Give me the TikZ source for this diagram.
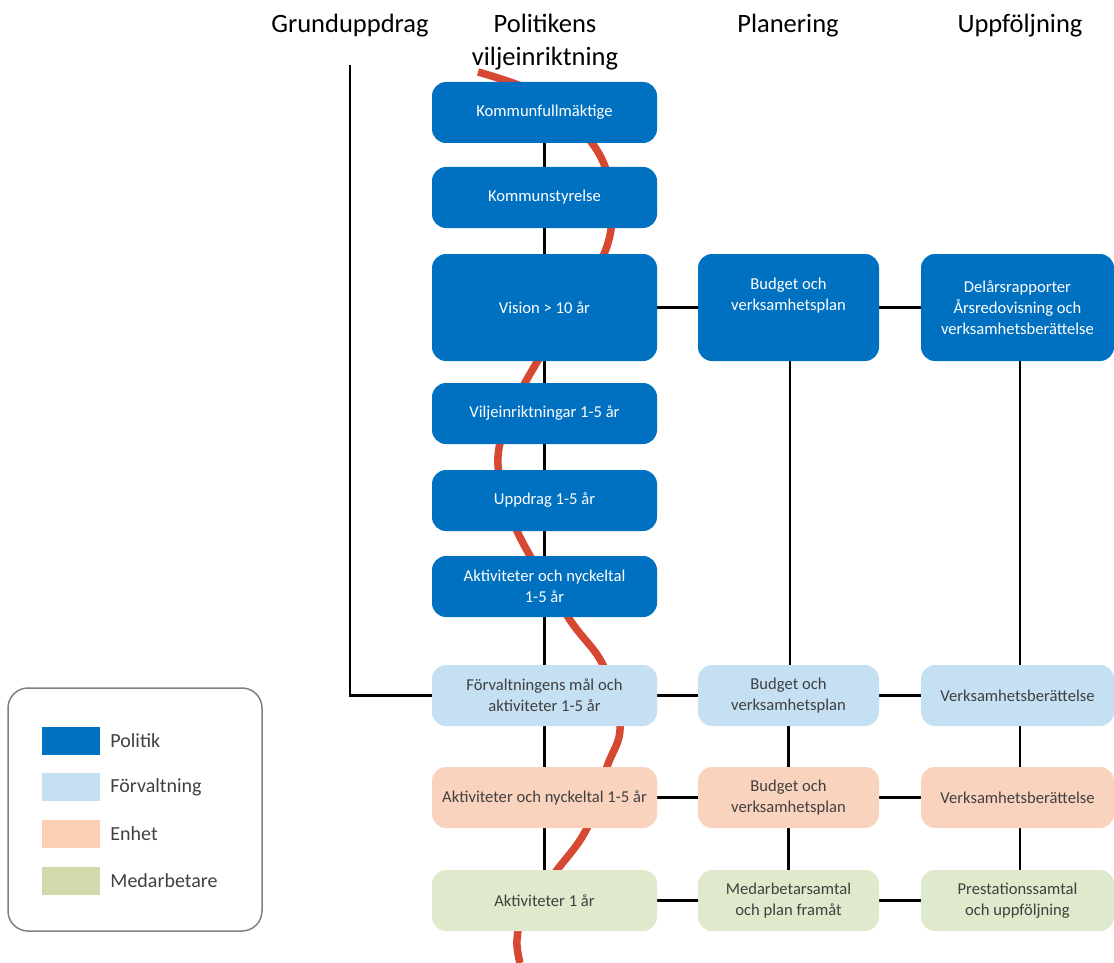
\documentclass[tikz,border=0pt]{standalone}
\usepackage{fontspec}
\setmainfont{Carlito}
\usetikzlibrary{backgrounds}
\definecolor{politik}{RGB}{0,112,192}
\definecolor{forvaltning}{RGB}{197,224,243}
\definecolor{enhet}{RGB}{250,211,190}
\definecolor{medarb}{RGB}{222,234,203}
\definecolor{kurva}{RGB}{214,72,50}
\definecolor{gratext}{RGB}{64,64,64}
\begin{document}
\begin{tikzpicture}[x=1pt,y=-1pt,
  box/.style={rounded corners=14pt,inner sep=3pt,align=center,font=\fontsize{16.6}{21}\selectfont},
  pol/.style={box,fill=politik,text=white},
  forv/.style={box,fill=forvaltning,text=gratext},
  enh/.style={box,fill=enhet,text=gratext},
  medb/.style={box,fill=medarb,text=gratext},
  colA/.style={minimum width=225pt},
  colB/.style={minimum width=181pt},
  colC/.style={minimum width=193pt},
  low/.style={minimum height=61pt},
  tall/.style={minimum height=107pt},
  head/.style={font=\fontsize{26.5}{33}\selectfont,align=center},
  link/.style={draw=black,line width=2.1pt},
  swatch/.style={minimum width=58pt,minimum height=28pt,inner sep=0pt},
  legtext/.style={anchor=west,inner sep=0pt,text=gratext,font=\fontsize{20}{23}\selectfont}]
\useasboundingbox (0,0) rectangle (1114,963);
% rubriker
\node[head] (hgrund) at (350,26) {Grunduppdrag};
\node[head] (hpol) at (545,42) {Politikens\\viljeinriktning};
\node[head] (hplan) at (788,26) {Planering};
\node[head] (hupp) at (1020,26) {Uppföljning};
% politik
\node[pol,colA,low] (kf) at (544.5,112.5) {Kommunfullmäktige};
\node[pol,colA,low] (ks) at (544.5,197.5) {Kommunstyrelse};
\node[pol,colA,tall] (vis) at (544.5,307.5) {Vision > 10 år};
\node[pol,colA,low] (vil) at (544.5,413.5) {Viljeinriktningar 1-5 år};
\node[pol,colA,low] (upp) at (544.5,500.5) {Uppdrag 1-5 år};
\node[pol,colA,low] (akt) at (544.5,586.5) {Aktiviteter och nyckeltal\\1-5 år};
\node[pol,colB,tall] (bud1) at (788.5,307.5) {Budget och\\verksamhetsplan\\\strut};
\node[pol,colC,tall] (del) at (1017.5,307.5) {Delårsrapporter\\Årsredovisning och\\verksamhetsberättelse};
% förvaltning, enhet, medarbetare
\node[forv,colA,low] (fv) at (544.5,695.5) {Förvaltningens mål och\\aktiviteter 1-5 år};
\node[forv,colB,low] (bud2) at (788.5,695.5) {Budget och\\verksamhetsplan};
\node[forv,colC,low] (vb1) at (1017.5,695.5) {Verksamhetsberättelse};
\node[enh,colA,low] (ae) at (544.5,797.5) {Aktiviteter och nyckeltal 1-5 år};
\node[enh,colB,low] (bud3) at (788.5,797.5) {Budget och\\verksamhetsplan};
\node[enh,colC,low] (vb2) at (1017.5,797.5) {Verksamhetsberättelse};
\node[medb,colA,low] (ak1) at (544.5,900.5) {Aktiviteter 1 år};
\node[medb,colB,low] (med) at (788.5,900.5) {Medarbetarsamtal\\och plan framåt};
\node[medb,colC,low] (pre) at (1017.5,900.5) {Prestationssamtal\\och uppföljning};
% legend
\node[draw=gray,line width=1.5pt,rounded corners=20pt,minimum width=254pt,minimum height=243pt] (legend) at (135,809.5) {};
\node[swatch,fill=politik] (lpol) at (71,741) {};
\node[swatch,fill=forvaltning] (lforv) at (71,787) {};
\node[swatch,fill=enhet!95!orange] (lenh) at (71,834) {};
\node[swatch,fill=medarb!85!olive] (lmed) at (71,881) {};
\node[legtext] at ([xshift=10pt]lpol.east) {Politik};
\node[legtext] at ([xshift=10pt]lforv.east) {Förvaltning};
\node[legtext] at ([xshift=10pt]lenh.east) {Enhet};
\node[legtext] at ([xshift=10pt]lmed.east) {Medarbetare};
\coordinate (gtop) at (350,65);
\begin{scope}[on background layer]
  \draw[kurva,line width=7.5pt] plot[smooth,tension=0.6] coordinates {(478,72) (545,97) (592,143) (610,185) (610,235) (590,280) (537,362) (510,415) (498,465) (517,531) (568,617) (603,665) (620,726) (607,767) (587,828) (557,870) (525,910) (517,940) (520,963)};
  \draw[link] (kf) -- (ks) -- (vis) -- (vil) -- (upp) -- (akt) -- (fv) -- (ae) -- (ak1);
  \draw[link] (gtop) |- (fv.west);
  \draw[link] (vis) -- (bud1) -- (del);
  \draw[link] (fv) -- (bud2) -- (vb1);
  \draw[link] (ae) -- (bud3) -- (vb2);
  \draw[link] (ak1) -- (med) -- (pre);
  \draw[link] ([xshift=1.5pt]bud1.south) -- ([xshift=1.5pt]bud2.north);
  \draw[link] ([xshift=2.5pt]del.south) -- ([xshift=2.5pt]vb1.north);
  \draw[link] (bud2) -- (bud3) -- (med);
  \draw[link] ([xshift=2.5pt]vb1.south) -- ([xshift=2.5pt]vb2.north);
  \draw[link] ([xshift=2.5pt]vb2.south) -- ([xshift=2.5pt]pre.north);
\end{scope}
\end{tikzpicture}
\end{document}
